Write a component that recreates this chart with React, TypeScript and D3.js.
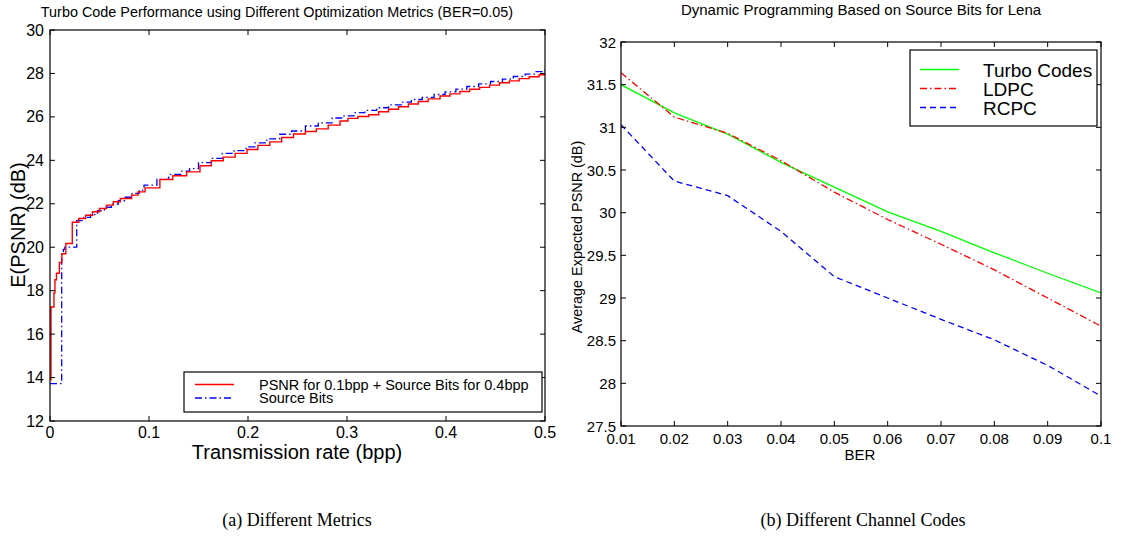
import React from "react";
import * as d3 from "d3";

// ---------- Left chart data (step curves) ----------
const redX = [0, 0.001, 0.004, 0.005, 0.0065, 0.0095, 0.012, 0.016, 0.0225, 0.029, 0.036, 0.043, 0.05, 0.057, 0.064, 0.071, 0.0825, 0.089, 0.096, 0.111, 0.124, 0.138, 0.1515, 0.163, 0.175, 0.187, 0.199, 0.21, 0.222, 0.234, 0.246, 0.258, 0.269, 0.281, 0.293, 0.301, 0.311, 0.322, 0.332, 0.342, 0.352, 0.362, 0.372, 0.382, 0.394, 0.404, 0.414, 0.424, 0.434, 0.444, 0.454, 0.464, 0.474, 0.484, 0.494, 0.5];
const redY = [13.9, 17.25, 17.9, 18.5, 18.8, 19.3, 19.7, 20.17, 21.15, 21.32, 21.47, 21.63, 21.78, 21.94, 22.09, 22.24, 22.4, 22.55, 22.73, 23.12, 23.29, 23.47, 23.75, 23.98, 24.15, 24.32, 24.5, 24.69, 24.85, 25.05, 25.21, 25.33, 25.45, 25.62, 25.81, 25.93, 26.02, 26.1, 26.24, 26.35, 26.47, 26.59, 26.71, 26.83, 26.96, 27.06, 27.17, 27.27, 27.36, 27.46, 27.57, 27.66, 27.76, 27.85, 27.94, 28.02];
const blueX = [0, 0.0118, 0.0135, 0.015, 0.027, 0.034, 0.041, 0.048, 0.055, 0.062, 0.069, 0.076, 0.083, 0.09, 0.095, 0.108, 0.12, 0.132, 0.141, 0.15, 0.163, 0.174, 0.186, 0.198, 0.207, 0.219, 0.232, 0.244, 0.258, 0.271, 0.285, 0.297, 0.307, 0.318, 0.33, 0.342, 0.355, 0.365, 0.376, 0.388, 0.399, 0.41, 0.421, 0.433, 0.445, 0.457, 0.468, 0.48, 0.491, 0.5];
const blueY = [13.72, 19.75, 19.9, 20.0, 21.22, 21.37, 21.5, 21.68, 21.84, 21.99, 22.14, 22.3, 22.48, 22.63, 22.86, 23.12, 23.35, 23.5, 23.62, 23.89, 24.09, 24.32, 24.45, 24.62, 24.8, 24.99, 25.2, 25.35, 25.58, 25.72, 25.95, 26.05, 26.2, 26.3, 26.42, 26.55, 26.68, 26.8, 26.9, 27.03, 27.15, 27.28, 27.4, 27.52, 27.63, 27.74, 27.86, 27.97, 28.08, 28.2];
const leftXTicks = [0, 0.1, 0.2, 0.3, 0.4, 0.5];
const leftXLabels = ["0", "0.1", "0.2", "0.3", "0.4", "0.5"];
const leftYTicks = [12, 14, 16, 18, 20, 22, 24, 26, 28, 30];
const leftYLabels = ["12", "14", "16", "18", "20", "22", "24", "26", "28", "30"];
const leftLegend = ["PSNR for 0.1bpp + Source Bits for 0.4bpp", "Source Bits"];

// ---------- Right chart data ----------
const ber = [0.01, 0.02, 0.03, 0.04, 0.05, 0.06, 0.07, 0.08, 0.09, 0.1];
const turbo = [31.5, 31.17, 30.92, 30.59, 30.3, 30.01, 29.78, 29.53, 29.29, 29.06];
const ldpc = [31.64, 31.12, 30.93, 30.61, 30.24, 29.92, 29.63, 29.33, 29.0, 28.67];
const rcpc = [31.03, 30.37, 30.2, 29.78, 29.25, 29.0, 28.75, 28.51, 28.21, 27.85];
const rightXTicks = [0.01, 0.02, 0.03, 0.04, 0.05, 0.06, 0.07, 0.08, 0.09, 0.1];
const rightXLabels = ["0.01", "0.02", "0.03", "0.04", "0.05", "0.06", "0.07", "0.08", "0.09", "0.1"];
const rightYTicks = [27.5, 28, 28.5, 29, 29.5, 30, 30.5, 31, 31.5, 32];
const rightYLabels = ["27.5", "28", "28.5", "29", "29.5", "30", "30.5", "31", "31.5", "32"];
const rightLegend = ["Turbo Codes", "LDPC", "RCPC"];

const FONT = "'Liberation Sans', Arial, Helvetica, sans-serif";
const SERIF = "'Liberation Serif', 'Times New Roman', serif";

export default function App() {
  // Left plot geometry
  const L = { x0: 50, x1: 545, y0: 30, y1: 421 };
  const xL = d3.scaleLinear().domain([0, 0.5]).range([L.x0, L.x1]);
  const yL = d3.scaleLinear().domain([12, 30]).range([L.y1, L.y0]);
  const stepLine = d3
    .line<[number, number]>()
    .x((d) => xL(d[0]))
    .y((d) => yL(d[1]))
    .curve(d3.curveStepAfter);
  const redPts = redX.map((x, i) => [x, redY[i]] as [number, number]);
  const bluePts = blueX.map((x, i) => [x, blueY[i]] as [number, number]);

  // Right plot geometry
  const R = { x0: 621, x1: 1101, y0: 42, y1: 426 };
  const xR = d3.scaleLinear().domain([0.01, 0.1]).range([R.x0, R.x1]);
  const yR = d3.scaleLinear().domain([27.5, 32]).range([R.y1, R.y0]);
  const lineR = (vals: number[]) =>
    d3
      .line<number>()
      .x((_, i) => xR(ber[i]))
      .y((d) => yR(d))(vals) || "";

  const tk = 5;
  const rightSeries = [
    { vals: turbo, color: "#00ff00", dash: "none" },
    { vals: ldpc, color: "#ff0000", dash: "7,3,1.5,3" },
    { vals: rcpc, color: "#0000ff", dash: "6,4" },
  ];

  return (
    <svg
      width={1127}
      height={538}
      style={{ position: "absolute", left: 0, top: 0, background: "#fff" }}
      fontFamily={FONT}
    >
      <rect x={0} y={0} width={1127} height={538} fill="#fff" />
      {/* ===== Left chart ===== */}
      <text x={277} y={17} fontSize={14.4} textAnchor="middle" fill="#000">
        Turbo Code Performance using Different Optimization Metrics (BER=0.05)
      </text>
      <clipPath id="clipL">
        <rect x={L.x0} y={L.y0} width={L.x1 - L.x0} height={L.y1 - L.y0} />
      </clipPath>
      <g clipPath="url(#clipL)">
        <path d={stepLine(bluePts) || ""} fill="none" stroke="#0000ff" strokeWidth={1.3} strokeDasharray="7,3,1.5,3" />
        <path d={stepLine(redPts) || ""} fill="none" stroke="#ff0000" strokeWidth={1.4} />
      </g>
      {leftXTicks.map((t, i) => (
        <g key={"lx" + i}>
          <line x1={xL(t)} x2={xL(t)} y1={L.y1} y2={L.y1 - tk} stroke="#000" />
          <line x1={xL(t)} x2={xL(t)} y1={L.y0} y2={L.y0 + tk} stroke="#000" />
          <text x={xL(t)} y={L.y1 + 17} fontSize={16} textAnchor="middle" fill="#000">
            {leftXLabels[i]}
          </text>
        </g>
      ))}
      {leftYTicks.map((t, i) => (
        <g key={"ly" + i}>
          <line x1={L.x0} x2={L.x0 + tk} y1={yL(t)} y2={yL(t)} stroke="#000" />
          <line x1={L.x1} x2={L.x1 - tk} y1={yL(t)} y2={yL(t)} stroke="#000" />
          <text x={L.x0 - 6} y={yL(t) + 5.5} fontSize={16} textAnchor="end" fill="#000">
            {leftYLabels[i]}
          </text>
        </g>
      ))}
      <rect x={L.x0} y={L.y0} width={L.x1 - L.x0} height={L.y1 - L.y0} fill="none" stroke="#000" strokeWidth={1.2} />
      <text x={297} y={459} fontSize={20} textAnchor="middle" fill="#000">
        Transmission rate (bpp)
      </text>
      <text transform="translate(25,225) rotate(-90)" fontSize={20} textAnchor="middle" fill="#000">
        E(PSNR) (dB)
      </text>
      {/* left legend */}
      <rect x={184} y={372} width={358} height={40} fill="#fff" stroke="#000" strokeWidth={1.2} />
      <line x1={195} x2={234} y1={384.5} y2={384.5} stroke="#ff0000" strokeWidth={1.3} />
      <line x1={195} x2={234} y1={398} y2={398} stroke="#0000ff" strokeWidth={1.3} strokeDasharray="7,3,1.5,3" />
      <text x={259} y={389.5} fontSize={14.5} fill="#000">{leftLegend[0]}</text>
      <text x={259} y={403} fontSize={14.5} fill="#000">{leftLegend[1]}</text>

      {/* ===== Right chart ===== */}
      <text x={861} y={15} fontSize={15} textAnchor="middle" fill="#000">
        Dynamic Programming Based on Source Bits for Lena
      </text>
      <clipPath id="clipR">
        <rect x={R.x0} y={R.y0} width={R.x1 - R.x0} height={R.y1 - R.y0} />
      </clipPath>
      <g clipPath="url(#clipR)">
        {rightSeries.map((s, i) => (
          <path key={i} d={lineR(s.vals)} fill="none" stroke={s.color} strokeWidth={1.3} strokeDasharray={s.dash} />
        ))}
      </g>
      {rightXTicks.map((t, i) => (
        <g key={"rx" + i}>
          <line x1={xR(t)} x2={xR(t)} y1={R.y1} y2={R.y1 - tk} stroke="#000" />
          <line x1={xR(t)} x2={xR(t)} y1={R.y0} y2={R.y0 + tk} stroke="#000" />
          <text x={xR(t)} y={R.y1 + 18} fontSize={15} textAnchor="middle" fill="#000">
            {rightXLabels[i]}
          </text>
        </g>
      ))}
      {rightYTicks.map((t, i) => (
        <g key={"ry" + i}>
          <line x1={R.x0} x2={R.x0 + tk} y1={yR(t)} y2={yR(t)} stroke="#000" />
          <line x1={R.x1} x2={R.x1 - tk} y1={yR(t)} y2={yR(t)} stroke="#000" />
          <text x={R.x0 - 5} y={yR(t) + 5.5} fontSize={15} textAnchor="end" fill="#000">
            {rightYLabels[i]}
          </text>
        </g>
      ))}
      <rect x={R.x0} y={R.y0} width={R.x1 - R.x0} height={R.y1 - R.y0} fill="none" stroke="#000" strokeWidth={1.2} />
      <text x={860} y={460} fontSize={15} textAnchor="middle" fill="#000">
        BER
      </text>
      <text transform="translate(582,237) rotate(-90)" fontSize={14.4} textAnchor="middle" fill="#000">
        Average Expected PSNR (dB)
      </text>
      {/* right legend */}
      <rect x={910} y={50} width={187} height={76} fill="#fff" stroke="#000" strokeWidth={1.2} />
      {rightSeries.map((s, i) => (
        <g key={"rl" + i}>
          <line x1={920} x2={959} y1={69.5 + i * 19} y2={69.5 + i * 19} stroke={s.color} strokeWidth={1.3} strokeDasharray={s.dash} />
          <text x={983} y={76.5 + i * 19} fontSize={19} fill="#000">
            {rightLegend[i]}
          </text>
        </g>
      ))}

      {/* captions */}
      <text x={297} y={526} fontSize={18} fontFamily={SERIF} textAnchor="middle" fill="#000">
        (a) Different Metrics
      </text>
      <text x={863} y={526} fontSize={18} fontFamily={SERIF} textAnchor="middle" fill="#000">
        (b) Different Channel Codes
      </text>
    </svg>
  );
}
